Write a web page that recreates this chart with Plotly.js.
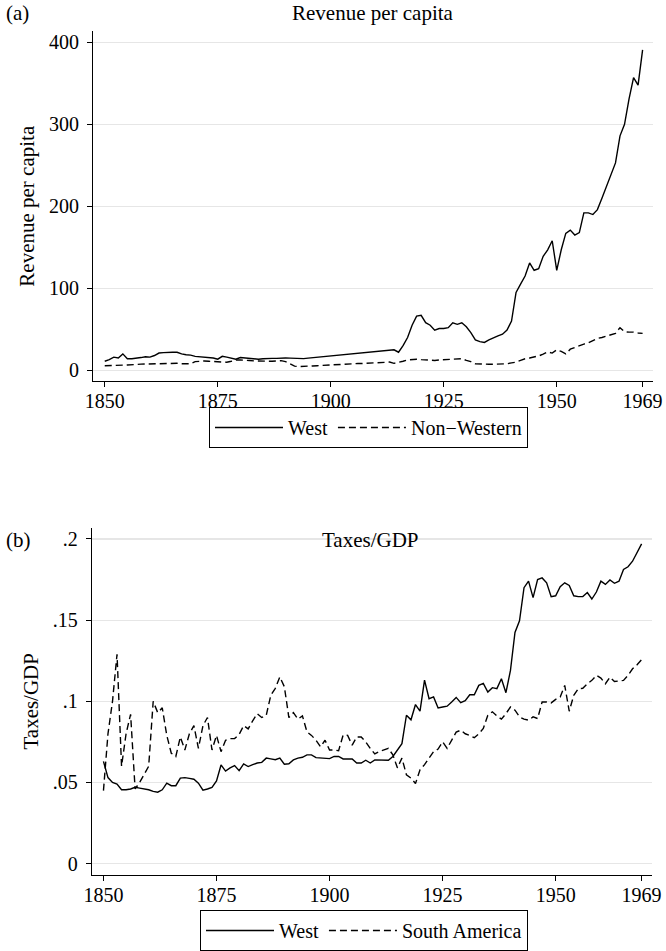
<!DOCTYPE html>
<html>
<head>
<meta charset="utf-8">
<script src="https://cdn.plot.ly/plotly-3.0.1.min.js"></script>
<style>html,body{margin:0;padding:0;background:#fff;}#chart{width:666px;height:951px;}</style>
</head>
<body>
<div id="chart"></div>
<script>
// Years 1850..1969
const years = [];
for (let y = 1850; y <= 1969; y++) years.push(y);

// Panel (a): Revenue per capita
const revWest = [
 11,13,16,15,20,14,14,14.5,15.5,16.5,
 16,18,21,21.5,22,22,22,20,19,18.5,
 17,16.5,16.5,15.5,15,13.5,17,16,15,13.5,
 15.5,15,14.5,14,13.5,14,14.5,14.5,14.5,15,
 15,14.8,14.5,14.3,14.2,14.8,15.3,16,16.5,17,
 17.4,18,18.5,19,19.5,20,20.5,21,21.5,22,
 23,23.5,24,24.5,25,22,30,40,55,66,
 67,58,55,49,51,51,52,58,56,58,
 53,46,37,35,34,37,40,42,44,49,
 60,95,105,115,131,122,124,139,147,158,
 122,147,167,171,165,168,192,192,190,196,
 210,224,237,253,286,300,331,357,348,391
];
const revNonWest = [
 5.5,5.5,6,6,6.3,6.5,6.5,7,7.5,7.7,
 7.5,7.5,8,8,8.5,8.5,8.5,8,8,8,
 10.5,11,11.4,11,10.5,10,10,9.8,11,12.5,
 12.5,12.5,12,11.5,11.4,11,10.5,11,11.4,11.7,
 10.5,8,5,4.5,4.5,5,5.3,5.6,6,6.3,
 6.5,7,7.3,7.7,7.8,8,8.2,8.3,8.5,8.8,
 9,9.3,9.6,10,8.5,9.5,11,12.5,13,13.5,
 13,12.5,11.7,12,12.5,13,13.5,14,14.6,14.2,
 12,10.5,8,7.5,7.3,7.3,7.4,7.5,7.8,8,
 9,10,12,14,15,16,17.5,19.6,22.4,21,
 25,23,20,25.7,28,30.6,32,33.5,36,38.8,
 40,41.6,43,45,52,47,46.5,46.5,45.5,45
];

// Panel (b): Taxes/GDP
const taxWest = [
 0.063,0.053,0.050,0.049,0.0455,0.0455,0.046,0.047,0.0465,0.046,
 0.0455,0.0445,0.044,0.0455,0.0496,0.048,0.048,0.0527,0.053,0.0525,
 0.052,0.0496,0.0453,0.046,0.047,0.051,0.0608,0.057,0.059,0.0604,
 0.0573,0.0614,0.0598,0.061,0.062,0.0624,0.065,0.0645,0.064,0.065,
 0.0612,0.0615,0.0639,0.065,0.0655,0.067,0.067,0.0653,0.065,0.065,
 0.0647,0.0661,0.066,0.0645,0.0645,0.0645,0.062,0.062,0.0637,0.062,
 0.0639,0.0638,0.0637,0.0637,0.066,0.070,0.0739,0.0914,0.0886,0.098,
 0.0939,0.113,0.1016,0.1027,0.0959,0.0965,0.097,0.0996,0.1024,0.0992,
 0.1004,0.104,0.104,0.1098,0.111,0.1057,0.1084,0.1078,0.1139,0.1053,
 0.119,0.1424,0.1496,0.170,0.174,0.1639,0.175,0.176,0.173,0.1645,
 0.165,0.1706,0.173,0.1714,0.165,0.1645,0.1645,0.167,0.163,0.1673,
 0.174,0.172,0.1747,0.1727,0.174,0.1812,0.1829,0.1863,0.1918,0.197
];
const taxSouthAm = [
 0.045,0.08,0.10,0.129,0.06,0.08,0.092,0.046,0.05,0.055,
 0.06,0.10,0.093,0.096,0.079,0.068,0.066,0.078,0.07,0.08,
 0.085,0.071,0.085,0.09,0.07,0.079,0.069,0.076,0.077,0.077,
 0.0796,0.085,0.083,0.088,0.0924,0.09,0.0914,0.1037,0.108,0.115,
 0.109,0.09,0.093,0.089,0.091,0.0812,0.079,0.076,0.072,0.076,
 0.07,0.07,0.0696,0.0792,0.079,0.073,0.078,0.078,0.075,0.071,
 0.0676,0.069,0.07,0.071,0.067,0.059,0.065,0.0547,0.0527,0.0494,
 0.0578,0.061,0.065,0.069,0.0706,0.075,0.071,0.076,0.081,0.0822,
 0.080,0.079,0.0776,0.080,0.0833,0.0914,0.0935,0.091,0.089,0.0924,
 0.0965,0.0945,0.0904,0.089,0.0884,0.0904,0.0894,0.0996,0.0996,0.099,
 0.1012,0.1027,0.1098,0.0939,0.1037,0.1078,0.108,0.1108,0.1129,0.116,
 0.1143,0.1108,0.1149,0.1122,0.1125,0.1129,0.116,0.12,0.1225,0.1257
];

const xTicks = [1850, 1875, 1900, 1925, 1950, 1969];
const revTicks = [0, 100, 200, 300, 400];
const taxTicks = [0, 0.05, 0.1, 0.15, 0.2];
const taxTickText = ['0', '.05', '.1', '.15', '.2'];

const FONT = 'Liberation Serif, Times New Roman, serif';
const W = 666, H = 951;
const px = v => v / W;
const py = v => 1 - v / H;

const lineW = 1.4;
const dashStyle = '7px,4px';

const traces = [
  {x: years, y: revWest, xaxis: 'x', yaxis: 'y', type: 'scatter', mode: 'lines',
   name: 'West', line: {color: '#000', width: lineW}, legend: 'legend'},
  {x: years, y: revNonWest, xaxis: 'x', yaxis: 'y', type: 'scatter', mode: 'lines',
   name: 'Non\u2212Western', line: {color: '#000', width: lineW, dash: dashStyle}, legend: 'legend'},
  {x: years, y: taxWest, xaxis: 'x2', yaxis: 'y2', type: 'scatter', mode: 'lines',
   name: 'West', line: {color: '#000', width: lineW}, legend: 'legend2'},
  {x: years, y: taxSouthAm, xaxis: 'x2', yaxis: 'y2', type: 'scatter', mode: 'lines',
   name: 'South America', line: {color: '#000', width: lineW, dash: dashStyle}, legend: 'legend2'}
];

const TICKSIZE = 20;
const axisCommon = {
  showline: true, linecolor: '#000', linewidth: 1,
  ticks: 'outside', ticklen: 5, tickcolor: '#000', tickwidth: 1,
  zeroline: false, tickfont: {family: FONT, size: TICKSIZE, color: '#000'}
};

const legendCommon = {
  xanchor: 'center', yanchor: 'top',
  orientation: 'h', bordercolor: '#000', borderwidth: 1, bgcolor: 'rgba(255,255,255,0)',
  font: {family: FONT, size: 20, color: '#000'}, tracegroupgap: 0, itemwidth: 68
};

const layout = {
  width: W, height: H,
  margin: {l: 0, r: 0, t: 0, b: 0},
  paper_bgcolor: '#fff', plot_bgcolor: '#fff',
  font: {family: FONT, color: '#000', size: 20},
  xaxis: Object.assign({}, axisCommon, {
    domain: [px(93), px(653)], range: [1847.4, 1971.3],
    tickmode: 'array', tickvals: xTicks, showgrid: false, anchor: 'y',
    ticklabelstandoff: -3
  }),
  yaxis: Object.assign({}, axisCommon, {
    domain: [py(384), py(31.5)], range: [-13.3, 413.6],
    tickmode: 'array', tickvals: revTicks, showgrid: true, gridcolor: '#e6e6e6', gridwidth: 1.2,
    anchor: 'x', ticklabelstandoff: 4,
    title: {text: 'Revenue per capita', font: {family: FONT, size: 21, color: '#000'}, standoff: 8}
  }),
  xaxis2: Object.assign({}, axisCommon, {
    domain: [px(91.7), px(652)], range: [1847.4, 1971.3],
    tickmode: 'array', tickvals: xTicks, showgrid: false, anchor: 'y2',
    ticklabelstandoff: -3
  }),
  yaxis2: Object.assign({}, axisCommon, {
    domain: [py(881), py(532)], range: [-0.0067, 0.2067],
    tickmode: 'array', tickvals: taxTicks, ticktext: taxTickText,
    showgrid: true, gridcolor: '#e6e6e6', gridwidth: 1.2, anchor: 'x2', ticklabelstandoff: 4,
    title: {text: 'Taxes/GDP', font: {family: FONT, size: 21, color: '#000'}, standoff: 8}
  }),
  showlegend: true,
  legend: Object.assign({}, legendCommon, {x: px(368.5), y: py(410)}),
  legend2: Object.assign({}, legendCommon, {x: px(364), y: py(917)}),
  annotations: [
    {text: '(a)', xref: 'paper', yref: 'paper', x: px(4), y: py(13), xanchor: 'left', yanchor: 'middle',
     showarrow: false, font: {family: FONT, size: 21, color: '#000'}},
    {text: 'Revenue per capita', xref: 'paper', yref: 'paper', x: px(373), y: py(13), xanchor: 'center', yanchor: 'middle',
     showarrow: false, font: {family: FONT, size: 21, color: '#000'}},
    {text: '(b)', xref: 'paper', yref: 'paper', x: px(4), y: py(544), xanchor: 'left', yanchor: 'middle',
     showarrow: false, font: {family: FONT, size: 21, color: '#000'}},
    {text: 'Taxes/GDP', xref: 'paper', yref: 'paper', x: px(370), y: py(544), xanchor: 'center', yanchor: 'middle',
     showarrow: false, font: {family: FONT, size: 21, color: '#000'}}
  ]
};

Plotly.newPlot('chart', traces, layout, {displayModeBar: false, staticPlot: true});
</script>
</body>
</html>
